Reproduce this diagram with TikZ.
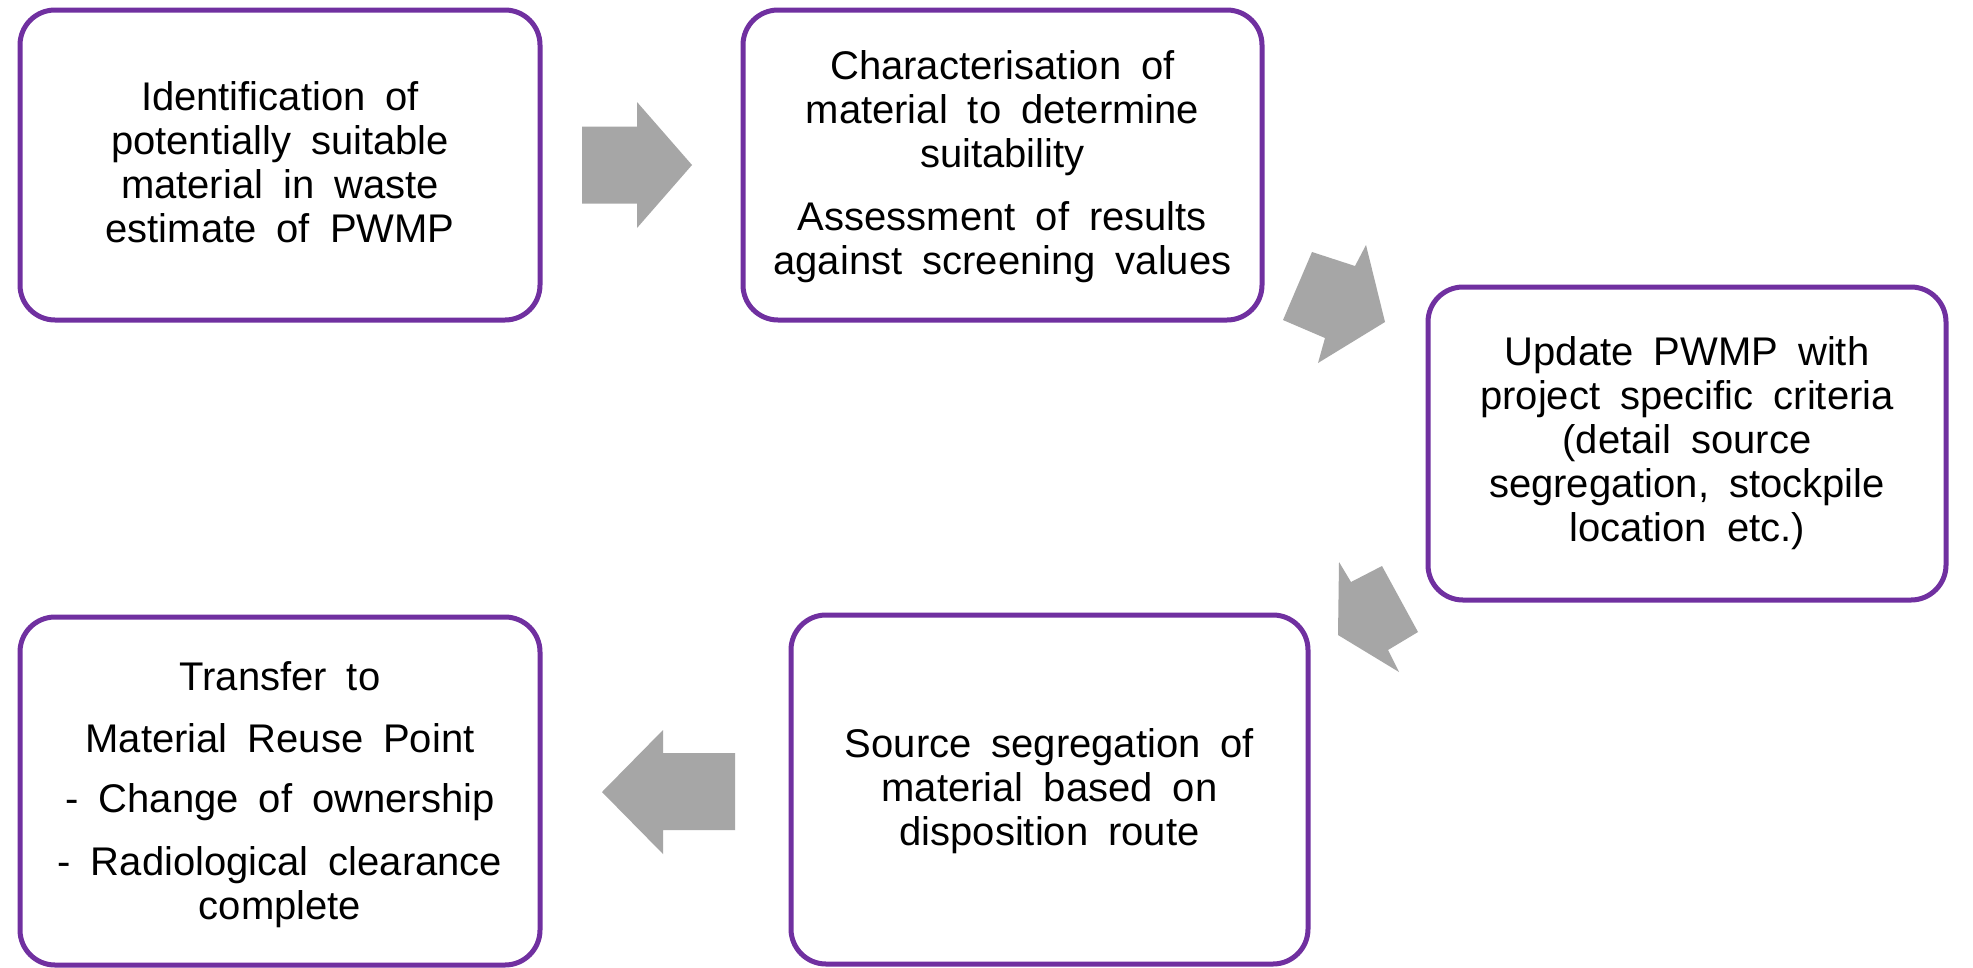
\documentclass[tikz,border=0pt]{standalone}
\usepackage{fontspec}
\setmainfont{Liberation Sans}[WordSpace=1.8]
\definecolor{boxpurple}{RGB}{112,48,160}
\definecolor{arrowgray}{RGB}{166,166,166}
\begin{document}
\begin{tikzpicture}[x=1pt,y=-1pt,
  stepbox/.style={draw=boxpurple, line width=5pt, rounded corners=35pt, fill=white, inner sep=0pt, outer sep=0pt},
  boxtext/.style={font=\fontsize{40}{44}\selectfont, align=center, inner sep=0pt, anchor=north, text=black},
  blockarrow/.style={fill=arrowgray}]
\useasboundingbox[fill=white] (0,0) rectangle (1973,967);

% boxes
\node[stepbox, minimum width=520pt, minimum height=310pt] (b1) at (280,165) {};
\node[stepbox, minimum width=519pt, minimum height=310pt] (b2) at (1002.5,165) {};
\node[stepbox, minimum width=518pt, minimum height=313pt] (b3) at (1687,443.5) {};
\node[stepbox, minimum width=517pt, minimum height=349pt] (b4) at (1049.5,789.5) {};
\node[stepbox, minimum width=520pt, minimum height=348pt] (b5) at (280,791) {};

% texts
\node[boxtext] (t1) at (280,79.2) {\strut Identification of\\potentially suitable\\material in waste\\estimate of PWMP};
\node[boxtext] (t2) at (1002.5,48.2) {\strut Characterisation of\\material to determine\\suitability\\[19pt]Assessment of results\\against screening values};
\node[boxtext] (t3) at (1687,334.2) {\strut Update PWMP with\\project specific criteria\\(detail source\\segregation, stockpile\\location\enspace etc.)};
\node[boxtext] (t4) at (1049.5,726.2) {\strut Source segregation of\\material based on\\disposition route};
\node[boxtext] (t5) at (280,659.2) {\strut Transfer to\\[18pt]Material Reuse Point\\[16pt]- Change of ownership\\[19pt]- Radiological clearance\\complete};

% block arrows
\fill[blockarrow] (582,126.5) -- (637,126.5) -- (637,102) -- (692,165) -- (637,228) -- (637,203.5) -- (582,203.5) -- cycle;
\fill[blockarrow] (1312,252) -- (1355,266) -- (1366,245) -- (1385,322) -- (1318,363) -- (1325,338) -- (1283,320) -- cycle;
\fill[blockarrow] (1382,566) -- (1351,582) -- (1339,562) -- (1338,635) -- (1399,672) -- (1388,650) -- (1418,632) -- cycle;
\fill[blockarrow] (735,753) -- (663,753) -- (663,730) -- (602,792) -- (663,854) -- (663,830) -- (735,830) -- cycle;
\end{tikzpicture}
\end{document}
